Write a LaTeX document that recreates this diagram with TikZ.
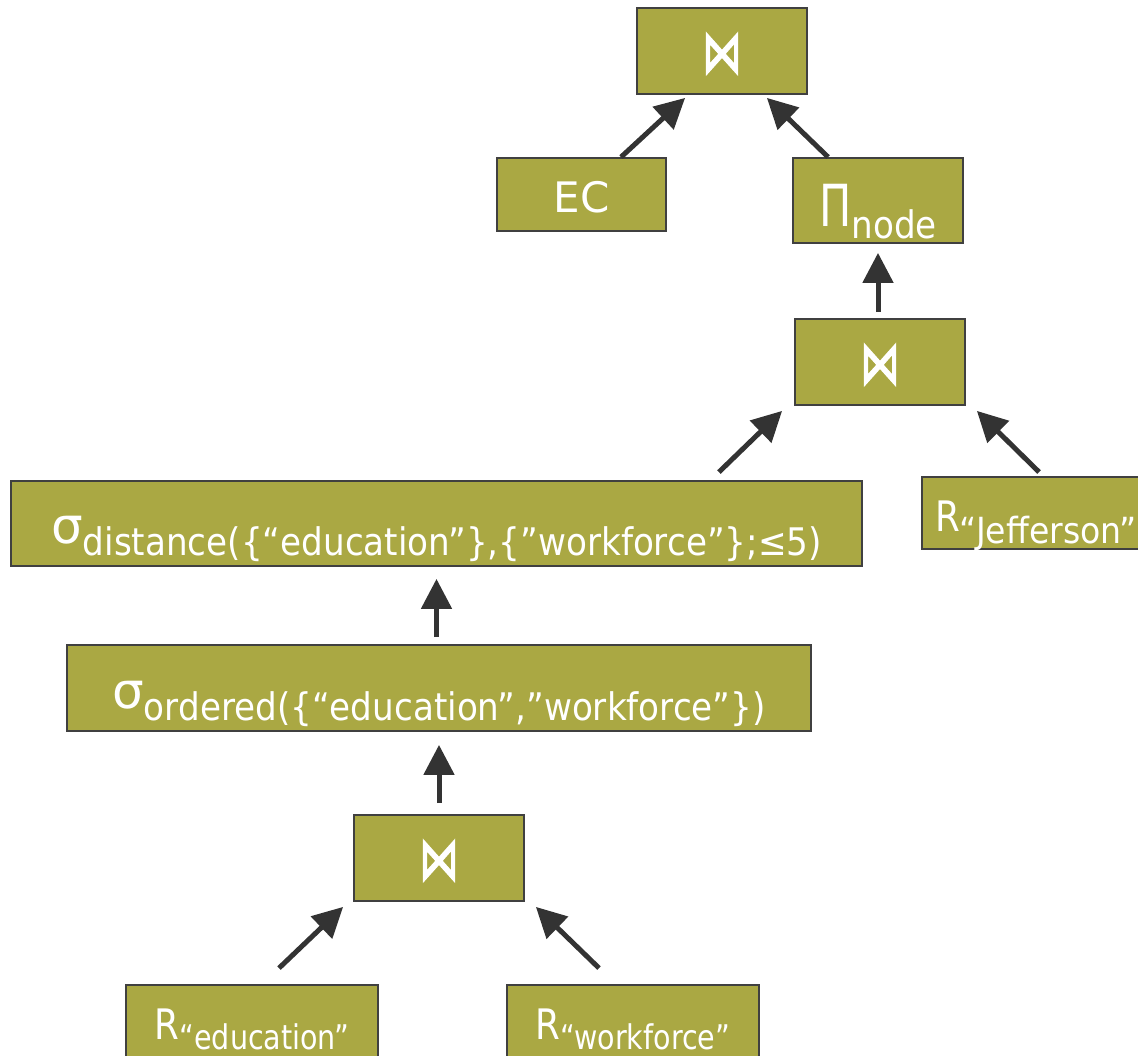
\documentclass[tikz,border=0pt]{standalone}
\usepackage{fontspec}
\setmainfont{DejaVu Sans}
\newfontfamily\subfamily[FakeStretch=0.9]{DejaVu Sans}
\newfontfamily\relfamily[FakeStretch=0.84]{DejaVu Sans}
\newfontfamily\jefffamily[FakeStretch=0.92]{DejaVu Sans}
\newfontfamily\joinfamily[FakeBold=2.2]{DejaVu Sans}
\usetikzlibrary{arrows.meta,calc}

\definecolor{boxfill}{HTML}{AAA843}
\definecolor{boxline}{HTML}{404040}
\definecolor{arrowgray}{HTML}{333333}

% operator symbols and subscripts
\newcommand\Sub[1]{\raisebox{-12pt}{\fontsize{38}{40}\selectfont\subfamily #1}}
\newcommand\RelSub[1]{\raisebox{-10pt}{\fontsize{34}{36}\selectfont\relfamily #1}}
\newcommand\JeffSub[1]{\raisebox{-12pt}{\fontsize{36}{38}\selectfont\jefffamily #1}}
\newcommand\SigmaOp{{\fontsize{50}{50}\selectfont σ}}
\newcommand\PiOp{\scalebox{0.74}[1]{\fontsize{58}{58}\selectfont Π}}
\newcommand\ROp{\scalebox{0.85}[1]{R}}
\newcommand\JoinOp{\scalebox{0.87}[1.33]{\fontsize{46}{46}\selectfont\joinfamily ⋈}}

\begin{document}
\begin{tikzpicture}[x=1pt,y=-1pt,
  opbox/.style={draw=boxline, fill=boxfill, line width=1.8pt, text=white,
    inner sep=0pt, font=\fontsize{42}{50}\selectfont, text depth=0pt},
  joinbox/.style={opbox, minimum width=170pt, minimum height=86pt, text height=44pt},
  arr/.style={draw=arrowgray, line width=5pt,
    -{Triangle[length=30pt,width=30pt]}}
]
\useasboundingbox (0,0) rectangle (1138,1055);

% operator tree
\node[joinbox] (tj) at (722,51) {\JoinOp};
\node[opbox, minimum width=169pt, minimum height=73pt, text height=35pt] (ec) at (581.5,194.5) {EC};
\node[opbox, minimum width=170pt, minimum height=85pt, text height=51pt] (pi) at (878,200.5) {\PiOp\Sub{node}};
\node[joinbox] (mj) at (880,362) {\JoinOp};
\node[opbox, minimum width=228pt, minimum height=72pt, text height=36pt] (rj) at (1036,513) {\ROp\JeffSub{“Jefferson”}};
\node[opbox, minimum width=851pt, minimum height=85pt, text height=39pt] (sd) at (436.5,523.5)
  {\SigmaOp\Sub{distance(\{“education”\},\{”workforce”\};≤5)}};
\node[opbox, minimum width=744pt, minimum height=86pt, text height=40pt] (so) at (439,688)
  {\SigmaOp\Sub{ordered(\{“education”,”workforce”\})}};
\node[joinbox] (bj) at (439,858) {\JoinOp};
\node[opbox, minimum width=252pt, minimum height=73pt, text height=35pt] (re) at (252,1021.5) {\ROp\RelSub{“education”}};
\node[opbox, minimum width=252pt, minimum height=73pt, text height=35pt] (rw) at (633,1021.5) {\ROp\RelSub{“workforce”}};

% data flow
\draw[arr] ([xshift=39.5pt]ec.north) -- ([shift={(49,3)}]tj.south west);
\draw[arr] ([xshift=36pt]pi.north west) -- ([shift={(-41,3)}]tj.south east);
\draw[arr, shorten <=6pt, shorten >=9pt] (mj.north -| pi.south) -- (pi.south);
\draw[arr] ([shift={(-144,-8)}]sd.north east) -- ([shift={(-12,5)}]mj.south west);
\draw[arr] ([shift={(118,-4)}]rj.north west) -- ([shift={(11,5)}]mj.south east);
\draw[arr, shorten <=7pt, shorten >=12pt] (sd.south |- so.north) -- (sd.south);
\draw[arr, shorten <=11pt, shorten >=13pt] (bj.north) -- (bj.north |- so.south);
\draw[arr] ([shift={(27,-16)}]re.north) -- ([shift={(-10,5)}]bj.south west);
\draw[arr] ([shift={(-34,-16)}]rw.north) -- ([shift={(11,5)}]bj.south east);
\end{tikzpicture}
\end{document}
